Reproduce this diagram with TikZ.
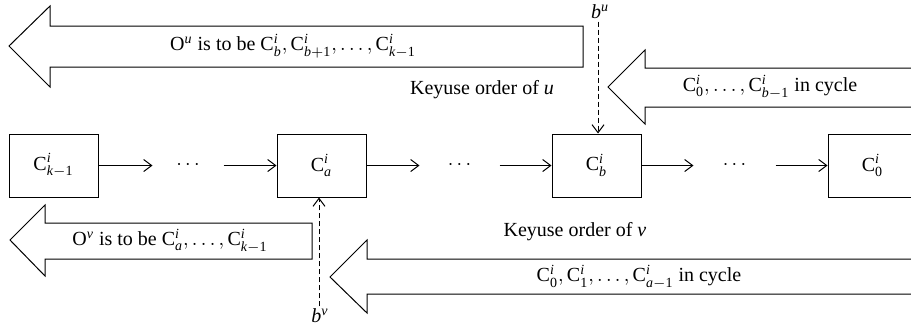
\documentclass[tikz,border=0pt]{standalone}
\usepackage{fontspec}
\setmainfont{Liberation Serif}
\usetikzlibrary{arrows.meta}
\newcommand{\Cii}[1]{\mathrm{C}^{\mathit{i}}_{#1}}
\newcommand{\vi}[1]{\mathit{#1}}
\newcommand{\mo}{\mathrm{-1}}
\begin{document}
\begin{tikzpicture}[x=0.5pt,y=-0.5pt, line width=0.5pt,
  bigarrow/.style={draw, line join=miter},
  cbox/.style={draw, minimum width=44.5pt, minimum height=31.5pt, inner sep=0pt},
  dotsnode/.style={inner sep=0pt, minimum height=10pt},
  flow/.style={-{Straight Barb[length=4pt,width=6pt]}},
  link/.style={dash pattern=on 2.5pt off 1.5pt, -{Straight Barb[length=4pt,width=6pt]}},
  txt/.style={inner sep=1pt, font=\normalsize}]
\clip (0,0) rectangle (911,333);
% boxes row
\node[cbox] (Ck) at (53.5,165.5) {$\Cii{\vi{k}-\mathrm{1}}$};
\node[cbox] (Ca) at (321.5,165.5) {$\Cii{\vi{a}}$};
\node[cbox] (Cb) at (596.5,165.5) {$\Cii{\vi{b}}$};
\node[cbox] (C0) at (872.5,165.5) {$\Cii{\mathrm{0}}$};
\node[dotsnode, minimum width=35pt] (d1) at (188,165.5) {$\cdots$};
\node[dotsnode, minimum width=39.5pt] (d2) at (459.5,165.5) {$\cdots$};
\node[dotsnode, minimum width=40.5pt] (d3) at (734.5,165.5) {$\cdots$};
\draw[flow] (Ck.east) -- (d1.west);
\draw[flow] (d1.east) -- (Ca.west);
\draw[flow] (Ca.east) -- (d2.west);
\draw[flow] (d2.east) -- (Cb.west);
\draw[flow] (Cb.east) -- (d3.west);
\draw[flow] (d3.east) -- (C0.west);
% top-left big arrow
\draw[bigarrow] (9,46) -- (50,6) -- (50,26) -- (583,26) -- (583,67) -- (50,67) -- (50,87) -- cycle;
\node[txt] (Ou) at (293,46) {$\mathrm{O}^{\vi{u}}$ is to be $\Cii{\vi{b}}, \Cii{\vi{b}+\mathrm{1}}, \ldots, \Cii{\vi{k}-\mathrm{1}}$};
% top-right big arrow
\draw[bigarrow] (930,68) -- (645,68) -- (645,50) -- (608,87) -- (645,124) -- (645,107) -- (930,107);
\node[txt] (cu) at (770,87) {$\Cii{\mathrm{0}}, \ldots, \Cii{\vi{b}-\mathrm{1}}$ in cycle};
\node[txt] (ku) at (482,90) {Keyuse order of \textit{u}};
% b^u
\node[txt] (bu) at (600,12) {$\vi{b}^{\vi{u}}$};
\draw[link] (bu.south -| Cb.north) ++(1.5,0) coordinate (bus) -- (bus |- Cb.north);
% bottom-left big arrow
\draw[bigarrow] (10,240) -- (45,205) -- (45,223) -- (312,223) -- (312,259) -- (45,259) -- (45,276) -- cycle;
\node[txt] (Ov) at (170,241) {$\mathrm{O}^{\vi{v}}$ is to be $\Cii{\vi{a}}, \ldots, \Cii{\vi{k}-\mathrm{1}}$};
% bottom-right big arrow
\draw[bigarrow] (930,259) -- (367,259) -- (367,240) -- (330,277) -- (367,313) -- (367,294) -- (930,294);
\node[txt] (cv) at (639,277) {$\Cii{\mathrm{0}}, \Cii{\mathrm{1}}, \ldots, \Cii{\vi{a}-\mathrm{1}}$ in cycle};
\node[txt] (kv) at (575,232) {Keyuse order of \textit{v}};
% b^v
\node[txt] (bv) at (320,316) {$\vi{b}^{\vi{v}}$};
\draw[link] (bv.north -| Ca.south) ++(-2.5,0) coordinate (bvn) -- (bvn |- Ca.south);
\end{tikzpicture}
\end{document}
